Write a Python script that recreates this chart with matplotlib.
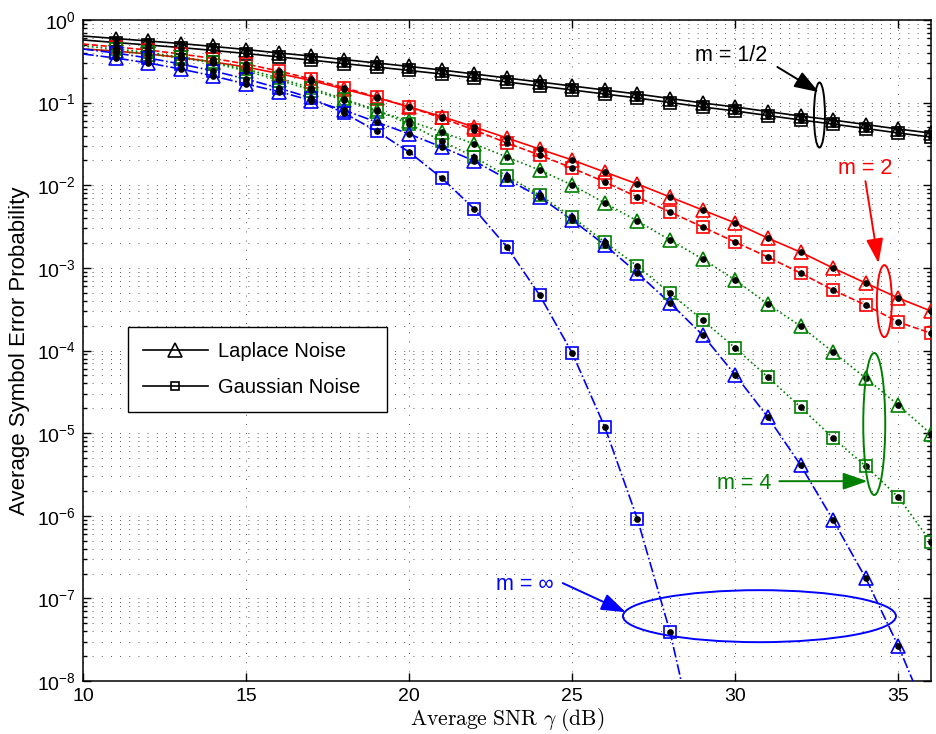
import matplotlib
matplotlib.use('Agg')
import matplotlib.pyplot as plt
from matplotlib.lines import Line2D
from matplotlib.patches import Ellipse
from matplotlib.ticker import LogLocator, NullFormatter, FixedLocator

plt.rcParams['font.family'] = ['Liberation Sans', 'DejaVu Sans']
plt.rcParams['mathtext.fontset'] = 'custom'
plt.rcParams['mathtext.rm'] = 'Liberation Sans'
plt.rcParams['mathtext.it'] = 'Liberation Sans:italic'
plt.rcParams['mathtext.bf'] = 'Liberation Sans:bold'

# ---------------- data ----------------
snr_db = list(range(10, 37))            # 10 ... 36 dB
snr_db_blue_gauss = list(range(10, 30))  # 10 ... 29 dB

black_laplace = [0.640, 0.597, 0.557, 0.519, 0.478, 0.439, 0.399, 0.366, 0.332,
                 0.302, 0.274, 0.248, 0.222, 0.1985, 0.1776, 0.1589, 0.1421,
                 0.1271, 0.1121, 0.0989, 0.0885, 0.0780, 0.0688, 0.0615,
                 0.0543, 0.0479, 0.0428]
black_gauss = [0.573, 0.534, 0.498, 0.464, 0.428, 0.393, 0.357, 0.327, 0.297,
               0.270, 0.245, 0.222, 0.1986, 0.1776, 0.1589, 0.1422, 0.1271,
               0.1137, 0.1003, 0.0885, 0.0792, 0.0698, 0.0616, 0.0550,
               0.0486, 0.0429, 0.0383]
red_laplace = [0.4456, 0.4213, 0.3876, 0.3516, 0.3101, 0.2698, 0.2251, 0.1851,
               0.1461, 0.1153, 0.0885, 0.0679, 0.0506, 0.0373, 0.0274, 0.0202,
               0.01444, 0.01034, 0.00720, 0.00501, 0.00349, 0.00229, 0.00155,
               0.000994, 0.000654, 0.000431, 0.000300]
red_gauss = [0.5123, 0.4711, 0.4332, 0.3876, 0.3418, 0.2934, 0.2413, 0.1931,
             0.1523, 0.1169, 0.0885, 0.0651, 0.0466, 0.0324, 0.0232, 0.01615,
             0.01093, 0.00720, 0.00474, 0.00312, 0.00205, 0.00135, 0.000865,
             0.000538, 0.000354, 0.000221, 0.000162]
green_laplace = [0.4456, 0.4213, 0.3876, 0.3467, 0.3016, 0.2413, 0.1877, 0.1421,
                 0.1075, 0.0791, 0.0599, 0.0441, 0.0315, 0.02195, 0.01527,
                 0.01005, 0.00609, 0.00369, 0.00217, 0.00128, 0.000711,
                 0.000364, 0.000197, 9.56e-5, 4.63e-5, 2.18e-5, 9.72e-6]
green_gauss = [0.4844, 0.4456, 0.4043, 0.3565, 0.3101, 0.2551, 0.1985, 0.1502,
               0.1105, 0.0813, 0.0551, 0.0343, 0.02195, 0.01292, 0.00761,
               0.00412, 0.00205, 0.00105, 0.000495, 0.000233, 0.000107,
               4.76e-5, 2.06e-5, 8.70e-6, 3.98e-6, 1.68e-6, 4.79e-7]
blue_laplace = [0.3876, 0.3467, 0.3016, 0.2551, 0.2099, 0.1679, 0.1363, 0.1060,
                0.0813, 0.0582, 0.0417, 0.0290, 0.01963, 0.01189, 0.00720,
                0.00379, 0.00189, 0.000865, 0.000375, 0.0001536, 5.04e-5,
                1.56e-5, 4.10e-6, 8.84e-7, 1.75e-7, 2.64e-8, 3.0e-9]
blue_gauss = [0.4456, 0.3985, 0.3467, 0.2934, 0.2413, 0.1931, 0.1502, 0.1137,
              0.0748, 0.0453, 0.0252, 0.01222, 0.00515, 0.001785, 0.000468,
              9.30e-5, 1.18e-5, 9.09e-7, 3.90e-8, 7.2e-10]

legend_labels = ['Laplace Noise', 'Gaussian Noise']

# ---------------- figure ----------------
fig = plt.figure(figsize=(9.36, 7.34), dpi=100)
ax = fig.add_axes([83/936, 53/734, 848/936, 661/734])

RED = '#ff0000'
GREEN = '#008000'
BLUE = '#0000ff'

series = [
    (snr_db, black_laplace, 'k', '-', '^'),
    (snr_db, black_gauss, 'k', '-', 's'),
    (snr_db, red_laplace, RED, '-', '^'),
    (snr_db, red_gauss, RED, '--', 's'),
    (snr_db, green_laplace, GREEN, ':', '^'),
    (snr_db, green_gauss, GREEN, ':', 's'),
    (snr_db, blue_laplace, BLUE, '-.', '^'),
    (snr_db_blue_gauss, blue_gauss, BLUE, '-.', 's'),
]

for x, y, c, ls, mk in series:
    ms = 10 if mk == '^' else 8
    ax.plot(x, y, color=c, linestyle=ls, linewidth=1.2, zorder=3)
    ax.plot(x[1:], y[1:], linestyle='none', marker=mk, markersize=ms,
            markerfacecolor='none', markeredgecolor=c, markeredgewidth=1.2,
            zorder=4)
    ax.plot(x[1:], y[1:], linestyle='none', marker='o', markersize=3.8,
            color='k', zorder=5)

ax.set_yscale('log')
ax.set_xlim(10, 36)
ax.set_ylim(1e-8, 1)
ax.xaxis.set_major_locator(FixedLocator([10, 15, 20, 25, 30, 35]))
ax.yaxis.set_major_locator(LogLocator(base=10, numticks=20))
ax.yaxis.set_minor_locator(LogLocator(base=10, subs=range(2, 10), numticks=100))
ax.yaxis.set_minor_formatter(NullFormatter())

dot = (0, (1, 10))
ax.grid(which='major', axis='both', linestyle=dot, color='#222222', linewidth=0.6)
ax.grid(which='minor', axis='y', linestyle=dot, color='#222222', linewidth=0.6)
ax.set_axisbelow(True)

ax.tick_params(which='both', direction='in', top=True, right=True,
               labelsize=14, width=1.0)
ax.tick_params(which='major', length=6, pad=5)
ax.tick_params(which='minor', length=3)
for s in ax.spines.values():
    s.set_linewidth(1.1)

ax.set_xlabel(r'$\mathrm{Average\ SNR}\ \gamma\ \mathrm{(dB)}$', fontsize=15.5,
              math_fontfamily='cm', labelpad=1)
ax.set_ylabel('Average Symbol Error Probability', fontsize=16, labelpad=5)

# legend
handles = [Line2D([], [], color='k', lw=1.2, marker='^', markersize=10,
                  markerfacecolor='none', markeredgewidth=1.2),
           Line2D([], [], color='k', lw=1.2, marker='s', markersize=6,
                  markerfacecolor='none', markeredgewidth=1.2)]
leg = ax.legend(handles, legend_labels, loc='upper left',
                bbox_to_anchor=(45/848, (354 - 86)/661, 259/848, 86/661),
                mode='expand', fontsize=14.5,
                frameon=True, fancybox=False, framealpha=1, edgecolor='k',
                handlelength=3.2, handletextpad=0.5, labelspacing=0.85,
                borderpad=0.75, borderaxespad=0)
leg.get_frame().set_linewidth(1.0)

# ---------------- annotations ----------------
fig.canvas.draw()
def to_axes(x, y):
    return ax.transAxes.inverted().transform(ax.transData.transform((x, y)))

def ellipse(x, y, w_px, h_px, color):
    cx, cy = to_axes(x, y)
    ax.add_patch(Ellipse((cx, cy), w_px/848, h_px/661, transform=ax.transAxes,
                         fill=False, edgecolor=color, linewidth=1.4, zorder=6,
                         clip_on=False))

def arrow(tail, tip, color):
    ax.annotate('', xy=tip, xytext=tail,
                arrowprops=dict(arrowstyle='-|>,head_length=1.0,head_width=0.35',
                                color=color, lw=1.4, shrinkA=0, shrinkB=0,
                                mutation_scale=15), zorder=6)

fs_ann = 15.5
# m = 1/2
ax.text(29.88, 0.377, 'm = 1/2', color='k', fontsize=fs_ann, ha='center', va='center')
arrow((31.29, 0.27), (32.56, 0.134), 'k')
ellipse(32.58, 0.0708, 11, 65, 'k')
# m = 2
ax.text(33.99, 0.01615, 'm = 2', color=RED, fontsize=fs_ann, ha='center', va='center')
arrow((33.99, 0.0112), (34.39, 0.00114), RED)
ellipse(34.57, 0.000396, 15, 72, RED)
# m = 4
ax.text(30.28, 2.48e-6, 'm = 4', color=GREEN, fontsize=fs_ann, ha='center', va='center')
arrow((31.35, 2.62e-6), (34.05, 2.62e-6), GREEN)
ellipse(34.26, 1.29e-5, 22, 142, GREEN)
# m = inf
ax.text(23.54, 1.49e-7, 'm = ∞', color=BLUE, fontsize=fs_ann, ha='center', va='center')
arrow((24.71, 1.53e-7), (26.64, 6.8e-8), BLUE)
ellipse(30.74, 6.09e-8, 273, 52, BLUE)

fig.savefig('out.png', dpi=100)
